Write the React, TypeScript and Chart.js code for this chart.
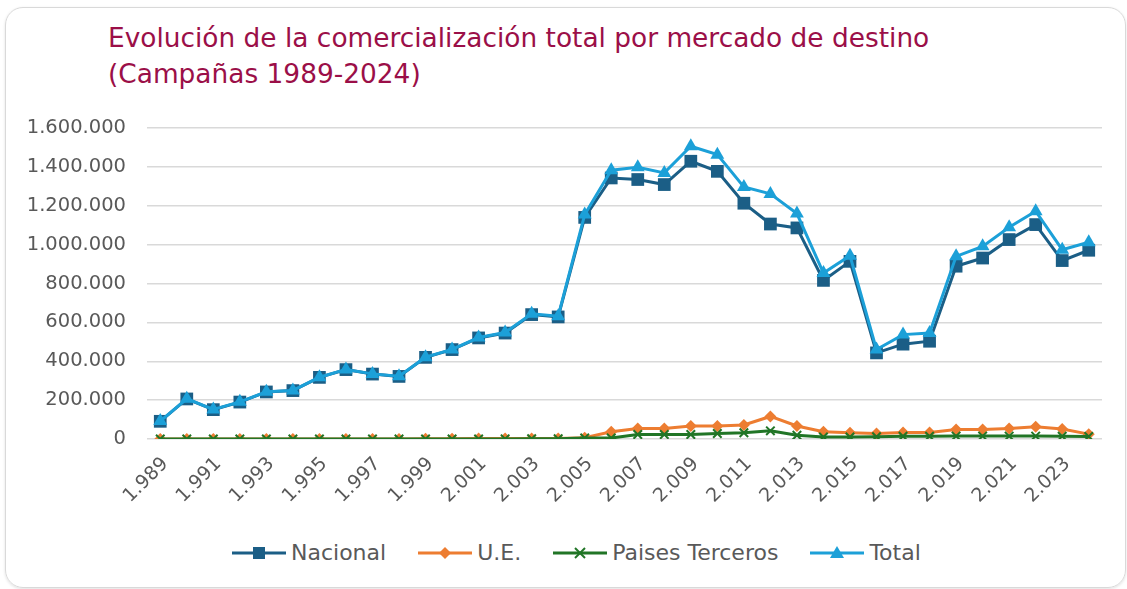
import React, { useEffect, useRef } from 'react';
import { Chart, registerables } from 'chart.js';

Chart.register(...registerables);

const years = [
  1989, 1990, 1991, 1992, 1993, 1994, 1995, 1996, 1997, 1998, 1999, 2000,
  2001, 2002, 2003, 2004, 2005, 2006, 2007, 2008, 2009, 2010, 2011, 2012,
  2013, 2014, 2015, 2016, 2017, 2018, 2019, 2020, 2021, 2022, 2023, 2024,
];

const nacional = [
  91000, 206000, 151000, 190000, 242000, 249000, 317000, 357000, 334000, 322000, 420000, 460000,
  520000, 545000, 640000, 628000, 1140000, 1343000, 1335000, 1309000, 1429000, 1377000, 1213000, 1106000,
  1086000, 816000, 914000, 443000, 488000, 503000, 889000, 931000, 1026000, 1103000, 918000, 971000,
];

const ue = [
  500, 500, 500, 500, 500, 500, 500, 500, 500, 500, 1000, 1500,
  2000, 2500, 3000, 3000, 7000, 37000, 54000, 54000, 67000, 67000, 72000, 116000,
  67000, 37000, 32000, 28000, 33000, 33000, 49000, 49000, 54000, 63000, 51000, 25000,
];

const paisesTerceros = [
  0, 0, 0, 0, 0, 0, 0, 0, 0, 0, 0, 0,
  0, 500, 1000, 1000, 5000, 5000, 23000, 23000, 23000, 28000, 32000, 42000,
  19000, 10000, 10000, 12000, 14000, 14000, 15000, 15000, 15000, 15000, 14000, 13000,
];

const total = [
  92000, 207000, 152000, 191000, 243000, 250000, 318000, 358000, 335000, 323000, 421000, 461000,
  522000, 548000, 644000, 632000, 1155000, 1383000, 1398000, 1369000, 1506000, 1463000, 1297000, 1261000,
  1160000, 854000, 943000, 460000, 537000, 545000, 940000, 991000, 1089000, 1172000, 974000, 1012000,
];

const seriesNames = ['Nacional', 'U.E.', 'Paises Terceros', 'Total'];
const seriesColors = ['#1b5e86', '#ed7d31', '#217526', '#1ca0d8'];
const titleLines = ['Evolución de la comercialización total por mercado de destino', '(Campañas 1989-2024)'];

const fmtNum = (n: number) => String(Math.round(n)).replace(/\B(?=(\d{3})+(?!\d))/g, '.');
const xLabels = years.map(fmtNum);

const FONT = "'DejaVu Sans', Verdana, sans-serif";
const TICK_COLOR = '#595959';

function LegendIcon({ kind, color }: { kind: number; color: string }) {
  let marker: React.ReactNode = null;
  if (kind === 0) marker = <rect x={21} y={4} width={12} height={12} fill={color} />;
  if (kind === 1) marker = <polygon points="27,4 33,10 27,16 21,10" fill={color} />;
  if (kind === 2)
    marker = (
      <g stroke={color} strokeWidth={2}>
        <line x1={22} y1={5} x2={32} y2={15} />
        <line x1={32} y1={5} x2={22} y2={15} />
      </g>
    );
  if (kind === 3) marker = <polygon points="27,3 34,15 20,15" fill={color} />;
  return (
    <svg width={54} height={20} style={{ display: 'block' }}>
      <line x1={0} y1={10} x2={54} y2={10} stroke={color} strokeWidth={3} />
      {marker}
    </svg>
  );
}

export default function App() {
  const canvasRef = useRef<HTMLCanvasElement | null>(null);

  useEffect(() => {
    if (!canvasRef.current) return;
    const base = { borderWidth: 3, fill: false, tension: 0 };
    const chart = new Chart(canvasRef.current, {
      type: 'line',
      data: {
        labels: xLabels,
        datasets: [
          {
            ...base,
            label: seriesNames[0],
            data: nacional,
            borderColor: seriesColors[0],
            backgroundColor: seriesColors[0],
            pointStyle: 'rect',
            pointRadius: 9,
            pointBorderWidth: 0,
            order: 3,
          },
          {
            ...base,
            label: seriesNames[1],
            data: ue,
            borderColor: seriesColors[1],
            backgroundColor: seriesColors[1],
            pointStyle: 'rectRot',
            pointRadius: 6,
            pointBorderWidth: 0,
            order: 2,
          },
          {
            ...base,
            label: seriesNames[2],
            data: paisesTerceros,
            borderColor: seriesColors[2],
            backgroundColor: seriesColors[2],
            pointStyle: 'crossRot',
            pointRadius: 6,
            pointBorderWidth: 2,
            order: 1,
          },
          {
            ...base,
            label: seriesNames[3],
            data: total,
            borderColor: seriesColors[3],
            backgroundColor: seriesColors[3],
            pointStyle: 'triangle',
            pointRadius: 8,
            pointBorderWidth: 0,
            order: 0,
          },
        ],
      },
      options: {
        animation: false,
        responsive: true,
        maintainAspectRatio: false,
        layout: { padding: { left: 0, right: 25, top: 33, bottom: 0 } },
        plugins: {
          legend: { display: false },
          title: { display: false },
          tooltip: { enabled: false },
        },
        scales: {
          x: {
            type: 'category',
            offset: true,
            grid: { display: false, drawTicks: false },
            border: { display: false },
            ticks: {
              autoSkip: false,
              maxRotation: 45,
              minRotation: 45,
              padding: 14,
              labelOffset: 5,
              color: TICK_COLOR,
              font: { family: FONT, size: 19 },
              callback: (_v: any, i: number) => (i % 2 === 0 ? xLabels[i] : ''),
            },
            afterFit: (s: any) => {
              s.height = 86;
            },
          },
          y: {
            min: 0,
            max: 1600000,
            grid: { color: '#d9d9d9', lineWidth: 1.5, drawTicks: false },
            border: { display: false },
            ticks: {
              stepSize: 200000,
              padding: 21,
              color: TICK_COLOR,
              font: { family: FONT, size: 19.5 },
              callback: (v: any) => fmtNum(Number(v)),
            },
            afterFit: (s: any) => {
              s.width = 147;
            },
          },
        },
      },
    });
    return () => chart.destroy();
  }, []);

  return (
    <div style={{ position: 'absolute', left: 0, top: 0, width: 1127, height: 589, background: '#fff', overflow: 'hidden' }}>
      <div
        style={{
          position: 'absolute',
          left: 5,
          top: 7,
          width: 1121,
          height: 581,
          boxSizing: 'border-box',
          border: '1.5px solid #d9d9d9',
          borderRadius: 18,
          boxShadow: '0 1px 3px rgba(0,0,0,0.12)',
        }}
      />
      <div
        style={{
          position: 'absolute',
          left: 108,
          top: 20,
          fontFamily: FONT,
          fontSize: 26.4,
          lineHeight: '36px',
          color: '#9b0f48',
          whiteSpace: 'nowrap',
        }}
      >
        {titleLines.map((t) => (
          <div key={t}>{t}</div>
        ))}
      </div>
      <div style={{ position: 'absolute', left: 0, top: 95, width: 1127, height: 430 }}>
        <canvas ref={canvasRef} />
      </div>
      <div
        style={{
          position: 'absolute',
          left: 232,
          top: 539,
          display: 'flex',
          alignItems: 'center',
          gap: 32,
          fontFamily: FONT,
          fontSize: 22,
          lineHeight: '28px',
          color: TICK_COLOR,
          whiteSpace: 'nowrap',
        }}
      >
        {seriesNames.map((n, i) => (
          <div key={n} style={{ display: 'flex', alignItems: 'center', gap: 5 }}>
            <LegendIcon kind={i} color={seriesColors[i]} />
            <span>{n}</span>
          </div>
        ))}
      </div>
    </div>
  );
}
